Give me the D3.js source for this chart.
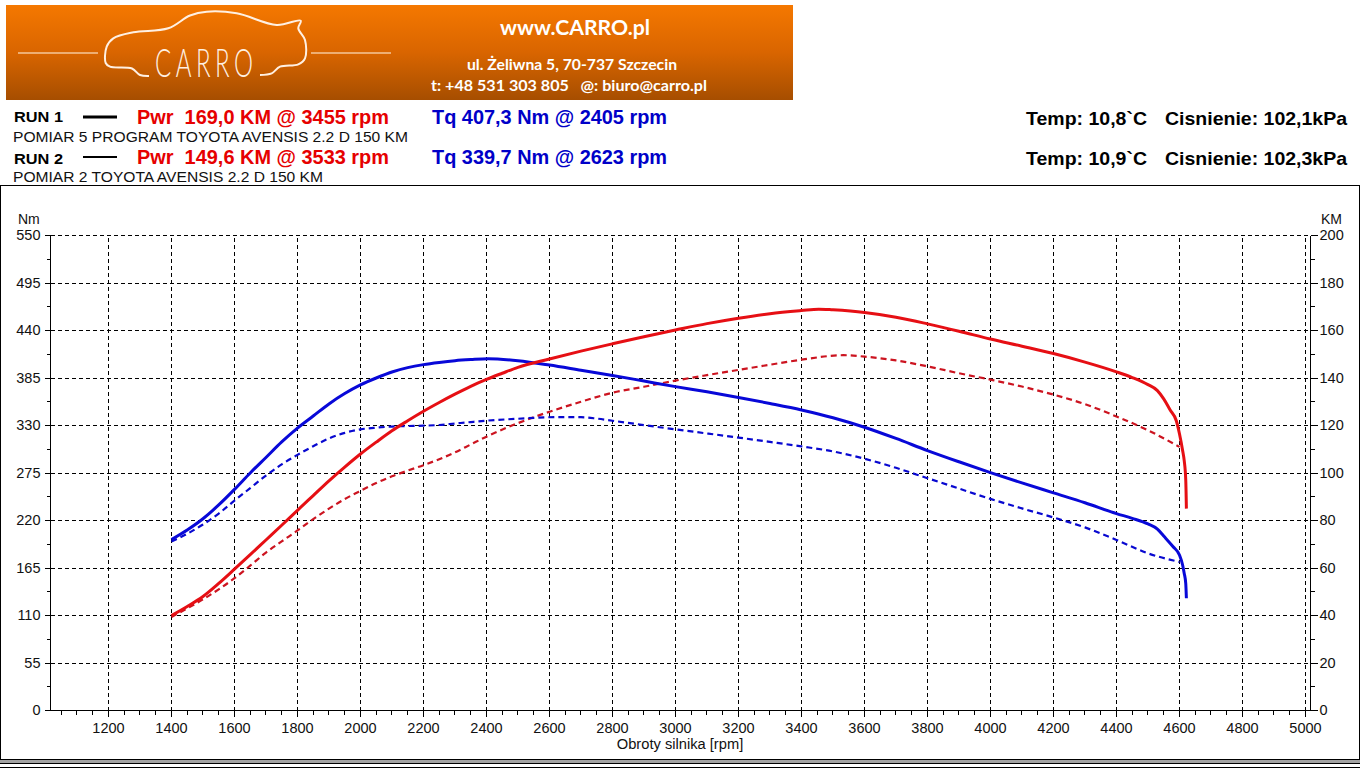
<!DOCTYPE html>
<html>
<head>
<meta charset="utf-8">
<script src="https://cdn.jsdelivr.net/npm/d3@7"></script>
<style>
  html, body { margin: 0; padding: 0; background: #fff; overflow: hidden; }
  svg { display: block; font-family: "Liberation Sans", Arial, sans-serif; }
  .tick text { font-size: 14.5px; fill: #111; }
  .tick line, .domain { shape-rendering: crispEdges; }
</style>
</head>
<body>
<svg id="chart" width="1360" height="768"></svg>
<script>
// run 1 torque [Nm]
const tq1Rpm = [1400,1450,1500,1550,1600,1650,1700,1750,1800,1850,1900,1950,2000,2050,2100,2150,2200,2250,2300,2350,2405,2500,2600,2700,2800,2900,3000,3100,3200,3300,3400,3500,3600,3700,3800,3900,4000,4100,4200,4300,4400,4450,4500,4530,4550,4580,4600,4610,4615,4620,4622];
const tq1Val = [198,209,222,238,256,275,293,311,327,341,355,367,377,385,392,397,400.5,403,405,406.3,407.3,405,400,394,388,381.5,375,369,362.5,355.5,348,339,328,315,301,288,275.5,263.5,252,240.5,228,222.5,216,210,202,189.6,180,168.5,159,147,130];
// run 1 power [KM]
const pw1Rpm = [1400,1450,1500,1550,1600,1650,1700,1750,1800,1850,1900,1950,2000,2050,2100,2150,2200,2250,2300,2350,2400,2450,2500,2600,2700,2800,2900,3000,3100,3200,3300,3400,3455,3500,3600,3700,3800,3900,4000,4100,4200,4300,4400,4450,4500,4530,4550,4570,4590,4600,4610,4615,4620,4622];
const pw1Val = [40,43.8,48,53.5,59.5,65.6,71.8,78,84.3,90.5,96.7,102.5,108,113,117.8,122,126,129.7,133.2,136.5,139.4,142,144.5,148,151.3,154.4,157.4,160.2,162.9,165.2,167.1,168.4,169,168.7,167.6,165.6,162.8,159.7,156.4,153.4,150.3,146.7,142.6,140.2,137.2,134.7,131.2,126.6,122,116.5,109.5,105.3,97,85];
// run 2 torque [Nm]
const tq2Rpm = [1400,1450,1500,1550,1600,1650,1700,1750,1800,1850,1900,1950,2000,2050,2100,2150,2200,2250,2300,2350,2400,2500,2623,2700,2750,2800,2900,3000,3100,3200,3300,3400,3500,3600,3700,3800,3900,4000,4100,4200,4300,4400,4500,4600];
const tq2Val = [195.8,204.6,215.4,228,243,257.5,272,285,296,306,315,321.5,325.5,327.5,328.8,329.4,329.8,330.6,332.3,334,335.6,337.8,339.7,339.6,338,335.5,330.5,325.5,320.8,316,311,305.8,300,291.5,281,269,257,245,234,223.5,212,197.5,182,172];
// run 2 power [KM]
const pw2Rpm = [1400,1450,1500,1550,1600,1650,1700,1750,1800,1850,1900,1950,2000,2050,2100,2150,2200,2250,2300,2350,2400,2500,2600,2700,2800,2900,3000,3100,3200,3300,3400,3533,3600,3700,3800,3900,4000,4100,4200,4300,4400,4500,4600];
const pw2Val = [39.4,43,46.8,51,55.7,61,66.5,71.2,75.8,80.6,85,89,92.5,95.8,98.6,101,103.3,105.8,108.7,112,115.3,121,125.8,130,133.8,136.3,138.9,141.2,143.4,145.6,147.7,149.6,149,147.4,144.9,142,139.3,136.4,133,129,123.8,118,111];

const rpmTicks = [1200,1400,1600,1800,2000,2200,2400,2600,2800,3000,3200,3400,3600,3800,4000,4200,4400,4600,4800,5000];
const rpmMinor = d3.range(1050, 5001, 50);
const nmTicks = [0,55,110,165,220,275,330,385,440,495,550];
const nmMinor = d3.range(27.5, 550, 55);
const kmTicks = [0,20,40,60,80,100,120,140,160,180,200];

const svg = d3.select("#chart");

// plot area
const left = 50.5, right = 1310.5, top_ = 235.5, bottom = 710.5;
const x = d3.scaleLinear().domain([1016, 5016]).range([left, right]);
const yNm = d3.scaleLinear().domain([0, 550]).range([bottom, top_]);
const yKm = d3.scaleLinear().domain([0, 200]).range([bottom, top_]);

// --- banner
const defs = svg.append("defs");
const grad = defs.append("linearGradient").attr("id", "banner").attr("x1", 0).attr("y1", 0).attr("x2", 0).attr("y2", 1);
grad.append("stop").attr("offset", 0).attr("stop-color", "#f57800");
grad.append("stop").attr("offset", 0.5).attr("stop-color", "#d96500");
grad.append("stop").attr("offset", 1).attr("stop-color", "#a64e00");

const banner = svg.append("g");
banner.append("rect").attr("x", 6).attr("y", 5).attr("width", 787).attr("height", 95).attr("fill", "url(#banner)");

const carOutline = [[149,76],[140,75],[132,68.5],[110,66.7],[105.7,63],[106.7,46.7],[113.3,38.3],[133.3,32.3],[168.3,28.3],[190,15.5],[206.7,11.7],[236.7,13.3],[276.7,25],[300.7,20.7],[298.3,28.3],[305,40],[305,58.3],[298.3,64.3],[280,66.7],[271.7,73.3],[260,75]];
banner.append("path")
  .attr("d", d3.line().curve(d3.curveCatmullRom.alpha(0.5))(carOutline))
  .attr("fill", "none").attr("stroke", "#fff0e2").attr("stroke-width", 2);
banner.selectAll("line.logo").data([[18, 98], [311, 391]]).enter().append("line")
  .attr("class", "logo")
  .attr("x1", d => d[0]).attr("x2", d => d[1]).attr("y1", 53).attr("y2", 53)
  .attr("stroke", "#f5c79a").attr("stroke-width", 1.4);
banner.append("text").text("CARRO")
  .attr("transform", "translate(155,77) scale(0.6,1)")
  .attr("letter-spacing", 7.5)
  .attr("font-family", "Lato").attr("font-weight", 300).attr("font-size", 40).attr("fill", "#fff0e2");

const bannerText = [
  { t: "www.CARRO.pl", x: 500, y: 35, w: 150, s: 20 },
  { t: "ul. Żeliwna 5, 70-737 Szczecin", x: 467, y: 70, w: 210, s: 14.5 },
  { t: "t: +48 531 303 805   @: biuro@carro.pl", x: 431, y: 91, w: 276, s: 14.5 }
];
banner.selectAll("text.info").data(bannerText).enter().append("text")
  .attr("class", "info").text(d => d.t)
  .attr("xml:space", "preserve")
  .attr("x", d => d.x).attr("y", d => d.y)
  .attr("textLength", d => d.w).attr("lengthAdjust", "spacingAndGlyphs")
  .attr("font-family", "Lato").attr("font-weight", 700).attr("font-size", d => d.s).attr("fill", "#fff");

// --- run summary
const header = [
  { t: "RUN 1", x: 14, y: 122, w: 49, s: 15.5, c: "#000", b: 1 },
  { t: "Pwr  169,0 KM @ 3455 rpm", x: 137, y: 124, w: 252, s: 20.5, c: "#e60000", b: 1 },
  { t: "Tq 407,3 Nm @ 2405 rpm", x: 432, y: 124, w: 235, s: 20.5, c: "#0000c8", b: 1 },
  { t: "POMIAR 5 PROGRAM TOYOTA AVENSIS 2.2 D 150 KM", x: 13, y: 142, w: 395, s: 15.5, c: "#111", b: 0 },
  { t: "RUN 2", x: 14, y: 164, w: 49, s: 15.5, c: "#000", b: 1 },
  { t: "Pwr  149,6 KM @ 3533 rpm", x: 137, y: 164, w: 252, s: 20.5, c: "#e60000", b: 1 },
  { t: "Tq 339,7 Nm @ 2623 rpm", x: 432, y: 164, w: 235, s: 20.5, c: "#0000c8", b: 1 },
  { t: "POMIAR 2 TOYOTA AVENSIS 2.2 D 150 KM", x: 13, y: 182, w: 310, s: 15.5, c: "#111", b: 0 },
  { t: "Temp: 10,8`C", x: 1026, y: 125, w: 121, s: 18.5, c: "#000", b: 1 },
  { t: "Cisnienie: 102,1kPa", x: 1165, y: 125, w: 182, s: 18.5, c: "#000", b: 1 },
  { t: "Temp: 10,9`C", x: 1026, y: 165, w: 121, s: 18.5, c: "#000", b: 1 },
  { t: "Cisnienie: 102,3kPa", x: 1165, y: 165, w: 182, s: 18.5, c: "#000", b: 1 }
];
svg.append("g").selectAll("text").data(header).enter().append("text")
  .text(d => d.t)
  .attr("xml:space", "preserve")
  .attr("x", d => d.x).attr("y", d => d.y)
  .attr("textLength", d => d.w).attr("lengthAdjust", "spacingAndGlyphs")
  .attr("font-size", d => d.s).attr("font-weight", d => d.b ? 700 : 400).attr("fill", d => d.c);

svg.append("line").attr("x1", 83).attr("x2", 117).attr("y1", 117).attr("y2", 117).attr("stroke", "#000").attr("stroke-width", 3);
svg.append("line").attr("x1", 83).attr("x2", 117).attr("y1", 157).attr("y2", 157).attr("stroke", "#000").attr("stroke-width", 2);

// --- frame
svg.append("rect").attr("x", 0.5).attr("y", 185.5).attr("width", 1359).attr("height", 574).attr("fill", "none").attr("stroke", "#000");
svg.append("rect").attr("x", 0).attr("y", 760).attr("width", 1360).attr("height", 3).attr("fill", "#a3a3a3");
svg.append("line").attr("x1", 0).attr("x2", 1360).attr("y1", 763.5).attr("y2", 763.5).attr("stroke", "#000");
svg.append("line").attr("x1", 0).attr("x2", 1360).attr("y1", 767.5).attr("y2", 767.5).attr("stroke", "#000");

// --- grid
const gridDash = "4,3";
const gridX = svg.append("g").attr("transform", `translate(0,${bottom})`)
  .call(d3.axisBottom(x).offset(0).tickValues(rpmTicks).tickSize(top_ - bottom).tickFormat(""));
gridX.select(".domain").remove();
gridX.selectAll("line").attr("stroke", "#000").attr("stroke-dasharray", gridDash);

const gridY = svg.append("g").attr("transform", `translate(${left},0)`)
  .call(d3.axisRight(yNm).offset(0).tickValues(nmTicks.slice(1)).tickSize(right - left).tickFormat(""));
gridY.select(".domain").remove();
gridY.selectAll("line").attr("stroke", "#000").attr("stroke-dasharray", gridDash);

// --- axes
function blackAxis(g) {
  g.selectAll("line").attr("stroke", "#000");
  g.selectAll("path.domain").attr("stroke", "#000");
}
svg.append("g").attr("transform", `translate(0,${bottom})`)
  .call(d3.axisBottom(x).offset(0).tickValues(rpmMinor).tickSize(4).tickSizeOuter(0).tickFormat(""))
  .call(blackAxis);
svg.append("g").attr("transform", `translate(0,${bottom})`)
  .call(d3.axisBottom(x).offset(0).tickValues(rpmTicks).tickSize(6).tickSizeOuter(0).tickPadding(6).tickFormat(d3.format("d")))
  .call(blackAxis);

svg.append("g").attr("transform", `translate(${left},0)`)
  .call(d3.axisLeft(yNm).offset(0).tickValues(nmMinor).tickSize(4).tickSizeOuter(0).tickFormat(""))
  .call(blackAxis);
svg.append("g").attr("transform", `translate(${left},0)`)
  .call(d3.axisLeft(yNm).offset(0).tickValues(nmTicks).tickSize(6).tickSizeOuter(0).tickPadding(4).tickFormat(d3.format("d")))
  .call(blackAxis);

svg.append("g").attr("transform", `translate(${right},0)`)
  .call(d3.axisRight(yKm).offset(0).tickValues(d3.range(10, 200, 20)).tickSize(4).tickSizeOuter(0).tickFormat(""))
  .call(blackAxis);
svg.append("g").attr("transform", `translate(${right},0)`)
  .call(d3.axisRight(yKm).offset(0).tickValues(kmTicks).tickSize(7).tickSizeOuter(0).tickPadding(2).tickFormat(d3.format("d")))
  .call(blackAxis);

svg.append("text").text("Nm").attr("x", 18).attr("y", 224).attr("font-size", 14).attr("fill", "#111");
svg.append("text").text("KM").attr("x", 1321).attr("y", 224).attr("font-size", 14).attr("fill", "#111");
svg.append("text").text("Obroty silnika [rpm]").attr("x", 680).attr("y", 749)
  .attr("text-anchor", "middle").attr("font-size", 14.7).attr("fill", "#111");

// --- curves
const series = [
  { rpm: pw2Rpm, val: pw2Val, y: yKm, c: "#cc1420", w: 2.2, dash: "6,4" },
  { rpm: tq2Rpm, val: tq2Val, y: yNm, c: "#0808d0", w: 2.2, dash: "6,4" },
  { rpm: tq1Rpm, val: tq1Val, y: yNm, c: "#0808d8", w: 3, dash: null },
  { rpm: pw1Rpm, val: pw1Val, y: yKm, c: "#e60f14", w: 3, dash: null }
];
svg.append("g").selectAll("path").data(series).enter().append("path")
  .attr("fill", "none")
  .attr("stroke", d => d.c)
  .attr("stroke-width", d => d.w)
  .attr("stroke-dasharray", d => d.dash)
  .attr("d", d => d3.line()
    .x((r) => x(r))
    .y((r, i) => d.y(d.val[i]))
    .curve(d3.curveMonotoneX)(d.rpm));
</script>
</body>
</html>
